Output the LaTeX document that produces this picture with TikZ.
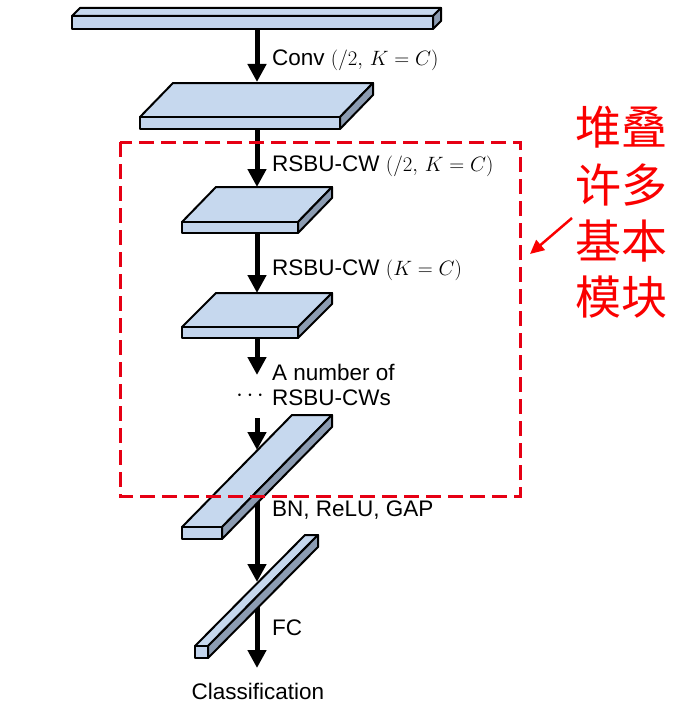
\documentclass[tikz,border=0pt]{standalone}
\usepackage{fontspec}
\setmainfont{Liberation Sans}
\newfontfamily\cjk{Noto Sans CJK SC}
\usetikzlibrary{arrows.meta}
\definecolor{slabtop}{RGB}{198,216,238}
\definecolor{slabfront}{RGB}{194,212,236}
\definecolor{slabside}{RGB}{140,156,178}
\definecolor{myred}{RGB}{250,0,0}
\definecolor{boxred}{RGB}{230,0,20}
\newcommand{\mathsz}{\fontsize{21.5}{26}\selectfont}
\tikzset{
  slab/.style={draw=black, line width=2pt, line join=round},
  flow/.style={line width=5pt, -{Triangle[width=18pt,length=18pt]}},
  lbl/.style={anchor=west, inner sep=0pt, font=\fontsize{22.5}{27}\selectfont},
  zh/.style={text=myred, inner sep=0pt, font=\cjk\fontsize{46}{50}\selectfont},
  redbox/.style={draw=boxred, line width=3pt, dash pattern=on 15pt off 7pt},
  redarrow/.style={draw=myred, line width=2.5pt, -{Triangle[width=13pt,length=14pt]}}
}
\newcommand{\myslab}[6]{%
  \filldraw[slab, fill=slabtop] (#1,#2) -- ++(#5,-#6) -- ++(#3,0) -- ++(-#5,#6) -- cycle;
  \filldraw[slab, fill=slabside] ({#1+#3},#2) -- ++(#5,-#6) -- ++(0,#4) -- ++(-#5,#6) -- cycle;
  \filldraw[slab, fill=slabfront] (#1,#2) rectangle ++(#3,#4);
}
\begin{document}
\begin{tikzpicture}[x=1pt,y=-1pt]
\useasboundingbox (0,0) rectangle (685,709);
% arrow end points
\coordinate (a1s) at (257,29);  \coordinate (a1e) at (257,82);
\coordinate (a2s) at (257,129); \coordinate (a2e) at (257,187);
\coordinate (a3s) at (257,233); \coordinate (a3e) at (257,293);
\coordinate (a4s) at (257,338); \coordinate (a4e) at (257,375);
\coordinate (a5s) at (257,418); \coordinate (a5e) at (257,450);
\coordinate (a6s) at (257,490); \coordinate (a6e) at (257,582);
\coordinate (a7s) at (257,598); \coordinate (a7e) at (257,668);
% slabs and arrows
\draw[flow] (a1s) -- (a1e);
\draw[flow] (a2s) -- (a2e);
\draw[flow] (a3s) -- (a3e);
\draw[flow] (a4s) -- (a4e);
\draw[flow] (a5s) -- (a5e);
\myslab{72}{16}{361}{13}{8}{8}
\myslab{140}{117}{200}{12}{33}{34}
\myslab{182}{222}{116}{11}{34}{35}
\myslab{182}{327}{116}{11}{34}{34}
\draw[flow] (a6s) -- (a6e);
\myslab{182}{527}{40}{12}{110}{112}
\draw[flow] (a7s) -- (a7e);
\myslab{195}{646}{13}{12}{110}{111}
% labels
\node[lbl] (l1) at (272,60) {Conv {\mathsz$(/2,\,K=C)$}};
\node[lbl] (l2) at (272,166) {RSBU-CW {\mathsz$(/2,\,K=C)$}};
\node[lbl] (l3) at (272,270) {RSBU-CW {\mathsz$(K=C)$}};
\node[lbl] (l4) at (272,372) {A number of};
\node[lbl] (l5) at (272,398) {RSBU-CWs};
\node[inner sep=0pt, anchor=base, font=\fontsize{24}{28}\selectfont] (dots) at (250,401) {$\cdot$\hspace{3.5pt}$\cdot$\hspace{3.5pt}$\cdot$};
\node[lbl] (l6) at (272,510) {BN, ReLU, GAP};
\node[lbl] (l7) at (272,628) {FC};
\node[inner sep=0pt, font=\fontsize{22.5}{27}\selectfont] (cls) at (258,691) {Classification};
% red annotation
\draw[redbox] (120,142) rectangle (520,496);
\node[zh] (z1) at (621,127) {堆叠};
\node[zh] (z2) at (621,185) {许多};
\node[zh] (z3) at (621,241) {基本};
\node[zh] (z4) at (621,297) {模块};
\coordinate (r1) at (572,218);
\coordinate (r2) at (530,254);
\draw[redarrow] (r1) -- (r2);
\end{tikzpicture}
\end{document}
